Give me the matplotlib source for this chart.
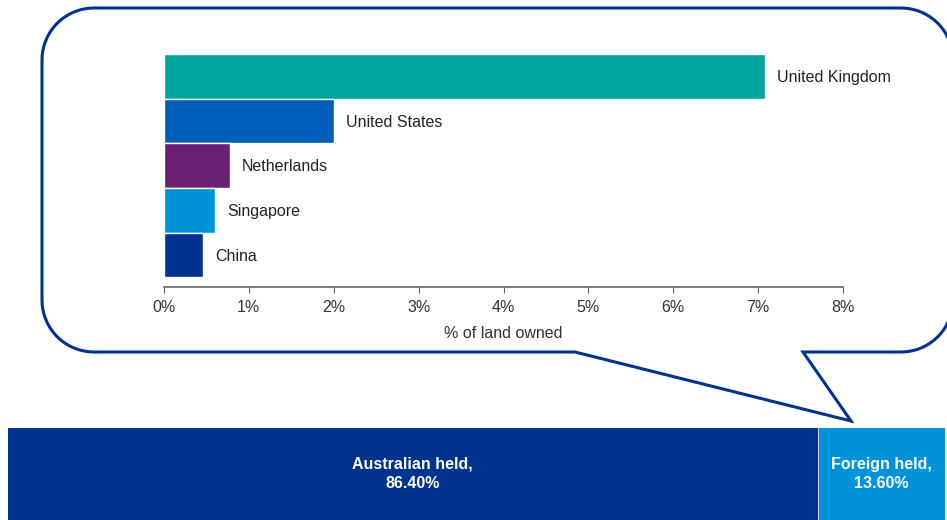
import numpy as np
import matplotlib.pyplot as plt
from matplotlib.path import Path
from matplotlib.patches import PathPatch

plt.rcParams['font.family'] = ['Liberation Sans', 'DejaVu Sans']

# данные
countries = ["United Kingdom", "United States", "Netherlands", "Singapore", "China"]
shares = [7.08, 2.0, 0.78, 0.60, 0.46]
bar_colors = ["#00A49F", "#005EB8", "#6B1F73", "#0093DA", "#00338D"]

held_labels = ["Australian held,\n86.40%", "Foreign held,\n13.60%"]
held_values = [86.4, 13.6]
held_colors = ["#00338D", "#0093DA"]

W, H = 947, 520
fig = plt.figure(figsize=(W / 100, H / 100), dpi=100)

# фон: пузырь-выноска в пикселях
bg = fig.add_axes([0, 0, 1, 1], zorder=0)
bg.set_xlim(0, W)
bg.set_ylim(H, 0)
bg.axis("off")

def arc(cx, cy, r, a0, a1, n=20):
    t = np.radians(np.linspace(a0, a1, n))
    return list(zip(cx + r * np.cos(t), cy - r * np.sin(t)))

L, R, T, B, rad = 42, 953, 8, 352, 52
pts = []
pts += arc(L + rad, T + rad, rad, 180, 90)       # левый верхний
pts += arc(R - rad, T + rad, rad, 90, 0)         # правый верхний
pts += arc(R - rad, B - rad, rad, 0, -90)        # правый нижний
pts += [(803, B), (851, 421), (575, B)]          # хвост
pts += arc(L + rad, B - rad, rad, 270, 180)      # левый нижний
pts.append(pts[0])
bubble = Path(pts)
bg.add_patch(PathPatch(bubble, facecolor="white", edgecolor="#00338D", lw=2.2))

# основная диаграмма
x0, x1, y0, y1 = 164, 843, 54, 287
ax = fig.add_axes([x0 / W, 1 - y1 / H, (x1 - x0) / W, (y1 - y0) / H], zorder=1)
ax.patch.set_alpha(0)
y = np.arange(len(countries))
ax.barh(y, shares, height=1.0, color=bar_colors, edgecolor="white", linewidth=1)
for yi, v, name in zip(y, shares, countries):
    ax.text(v + 0.14, yi + 0.03, name, va="center", ha="left", fontsize=11.5, color="#222222")
ax.set_xlim(0, 8)
ax.set_ylim(4.72, -0.5)
ax.set_yticks([])
ax.set_xticks(range(0, 9))
ax.set_xticklabels([f"{i}%" for i in range(0, 9)], fontsize=11.5, color="#333333")
ax.tick_params(axis="x", length=4, color="#666666", pad=5)
for s in ["top", "right", "left"]:
    ax.spines[s].set_visible(False)
ax.spines["bottom"].set_color("#666666")
ax.spines["bottom"].set_linewidth(1.2)
ax.set_xlabel("% of land owned", fontsize=11.5, color="#333333", labelpad=8)

# нижняя полоса
ax2 = fig.add_axes([8 / W, 0, 937 / W, 92 / H], zorder=1)
left = 0
for v, c, lab in zip(held_values, held_colors, held_labels):
    ax2.barh(0, v, left=left, height=1, color=c, edgecolor="none")
    ax2.text(left + v / 2, 0.0, lab, ha="center", va="center", color="white",
             fontsize=11.5, fontweight="bold", linespacing=1.35)
    left += v
ax2.axvline(held_values[0], color="#cccccc", lw=0.8)
ax2.set_xlim(0, 100)
ax2.set_ylim(-0.5, 0.5)
ax2.axis("off")

fig.savefig("out.png", dpi=100)
